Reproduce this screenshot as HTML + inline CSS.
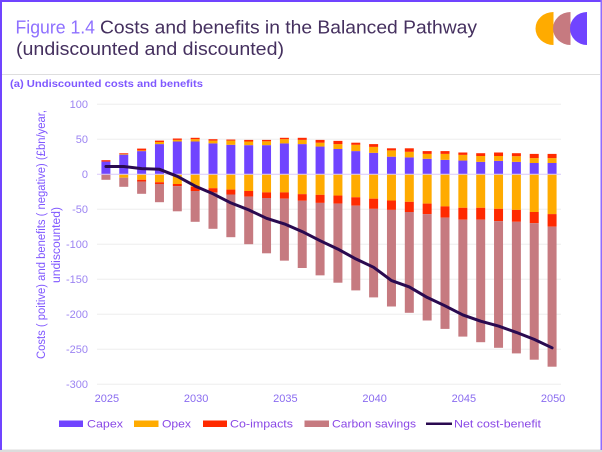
<!DOCTYPE html>
<html lang="en">
<head>
<meta charset="utf-8">
<title>Figure 1.4 Costs and benefits in the Balanced Pathway</title>
<style>
html,body{margin:0;padding:0;background:#fff;}
#frame{position:relative;width:602px;height:452px;overflow:hidden;background:#fff;}
svg{display:block;font-family:"Liberation Sans",sans-serif;}
</style>
</head>
<body>
<div id="frame">
<svg id="chart" width="602" height="452" viewBox="0 0 602 452">
  <rect x="0" y="449.5" width="602" height="2.5" fill="#dcdcdc"/>
  <rect x="0" y="0" width="602" height="2" fill="#7044ff"/>
  <rect x="0" y="0" width="2" height="450" fill="#7044ff"/>
  <rect x="600.5" y="0" width="1.5" height="450" fill="#8f6cff"/>
  <text x="15.5" y="33.5" font-size="18.5" fill="#8e70ff" textLength="79.5" lengthAdjust="spacingAndGlyphs">Figure 1.4</text>
  <text x="100" y="33.5" font-size="18.5" fill="#45305f" textLength="377" lengthAdjust="spacingAndGlyphs">Costs and benefits in the Balanced Pathway</text>
  <text x="16" y="55" font-size="18.5" fill="#45305f" textLength="268" lengthAdjust="spacingAndGlyphs">(undiscounted and discounted)</text>
  <g>
    <path d="M553.5 12 A18 16.5 0 0 0 553.5 45 Z" fill="#ffab00"/>
    <path d="M570.5 12 A17.5 16.5 0 0 0 570.5 45 Z" fill="#c67a80"/>
    <path d="M587 12 A17 16.5 0 0 0 587 45 Z" fill="#7044ff"/>
  </g>
  <rect x="2" y="74" width="598" height="1" fill="#dedede"/>
  <text x="10" y="87" font-size="10" font-weight="bold" fill="#7f58ff" textLength="193" lengthAdjust="spacingAndGlyphs">(a) Undiscounted costs and benefits</text>
  <g id="grid"></g>
  <g id="yticks"></g>
  <g id="bars"></g>
  <g id="zero"></g>
  <path id="netline" fill="none" stroke="#2a0a50" stroke-width="3" stroke-linejoin="round" stroke-linecap="round"/>
  <g id="xticks"></g>
  <text transform="translate(45,359) rotate(-90)" x="0" y="0" font-size="11.5" fill="#8058ff" textLength="249" lengthAdjust="spacingAndGlyphs">Costs ( poitive) and benefits ( negative) (£bn/year,</text>
  <text transform="translate(60,283) rotate(-90)" x="0" y="0" font-size="11.5" fill="#8058ff" textLength="76" lengthAdjust="spacingAndGlyphs">undiscounted)</text>
  <g>
    <g>
      <rect x="59" y="420.5" width="24" height="6.5" fill="#7044ff"/>
      <text x="87" y="427.5" font-size="11" fill="#8a48e6" textLength="36" lengthAdjust="spacingAndGlyphs">Capex</text>
    </g>
    <g>
      <rect x="134" y="420.5" width="24.5" height="6.5" fill="#ffab00"/>
      <text x="162" y="427.5" font-size="11" fill="#8a48e6" textLength="29" lengthAdjust="spacingAndGlyphs">Opex</text>
    </g>
    <g>
      <rect x="203" y="420.5" width="24" height="6.5" fill="#ff2a00"/>
      <text x="230" y="427.5" font-size="11" fill="#8a48e6" textLength="63" lengthAdjust="spacingAndGlyphs">Co-impacts</text>
    </g>
    <g>
      <rect x="304.5" y="420.5" width="24.5" height="6.5" fill="#c67a80"/>
      <text x="332" y="427.5" font-size="11" fill="#8a48e6" textLength="84" lengthAdjust="spacingAndGlyphs">Carbon savings</text>
    </g>
    <g>
      <rect x="426" y="422.5" width="26" height="2.5" fill="#2a0a50"/>
      <text x="454" y="427.5" font-size="11" fill="#8a48e6" textLength="87" lengthAdjust="spacingAndGlyphs">Net cost-benefit</text>
    </g>
  </g>
</svg>
</div>
<script>
const years = [2025,2026,2027,2028,2029,2030,2031,2032,2033,2034,2035,2036,2037,2038,2039,2040,2041,2042,2043,2044,2045,2046,2047,2048,2049,2050];
const xTickLabels = [2025,2030,2035,2040,2045,2050];
const yTickLabels = [100,50,0,-50,-100,-150,-200,-250,-300];
const capex = [18,28,33,43,46.7,46.7,44,42,41.5,41.5,44,43,39.5,36,33,30.5,25,24,22,20.5,19.5,17.6,19,17.6,16,16];
const opexCost = [0,1,1,3,2.3,3.3,4,6,5.2,5.5,6,6,5.5,7,9,8.5,9,8,7,8.5,8.1,8.4,7,8.1,7,7];
const coImpactCost = [2,1,2.6,2,2,2,2,1.5,2.3,2,2,3,4,4.6,3,4,3,5,4,4,3.4,4,5,4.3,6,6];
const opexBenefit = [0,-5,-8,-11.5,-14,-18,-20,-22,-24,-26,-26,-28.5,-29.5,-30.5,-33,-35,-37.6,-39.5,-42,-46,-48,-48,-49.5,-51,-54,-57];
const coImpactBenefit = [0,0,-2.5,-2.5,-3,-6,-6,-7,-8,-8,-9,-9.5,-11.5,-11.5,-12,-14.5,-13.4,-14.5,-15,-16,-17,-17,-17.5,-17,-16,-18];
const carbonSavings = [-8,-13,-17.5,-26,-36,-44,-52,-61,-68,-79,-88.5,-96,-103.5,-113,-121,-126.5,-138,-144,-152,-159,-167,-175,-181,-188,-195,-200];
const netCostBenefit = [11,11,8,7,-3,-17,-28,-41,-51,-63,-71,-82,-95,-107,-121,-133,-152,-161,-176,-188,-201,-210,-217,-226,-236,-248];

const seriesColors = {capex:'#7044ff',opex:'#ffab00',co:'#ff2a00',carbon:'#c67a80'};
const NS = 'http://www.w3.org/2000/svg';
const plotLeft = 97, plotRight = 561, zeroY = 174.2, pxPerUnit = 0.7, barWidth = 9;
function xScale(i){ return plotLeft + (i + 0.5) * (plotRight - plotLeft) / years.length; }
function yScale(v){ return zeroY - v * pxPerUnit; }

const gridG = document.getElementById('grid');
const yTickG = document.getElementById('yticks');
yTickLabels.forEach(function(v){
  if (v !== 0) {
    const line = document.createElementNS(NS,'line');
    line.setAttribute('x1',plotLeft);
    line.setAttribute('x2',plotRight);
    line.setAttribute('y1',yScale(v));
    line.setAttribute('y2',yScale(v));
    line.setAttribute('stroke','#eeeeee');
    line.setAttribute('stroke-width','1');
    
    
    gridG.appendChild(line);
  }
  const t = document.createElementNS(NS,'text');
  t.setAttribute('x',88);
  t.setAttribute('y',yScale(v) + 4);
  t.setAttribute('text-anchor','end');
  t.setAttribute('font-size','11');
  t.setAttribute('fill','#9c84f2');
  t.textContent = v;
  
  
  yTickG.appendChild(t);
});

const barsG = document.getElementById('bars');
function addSegment(i, from, to, color){
  if (from === to) return;
  const r = document.createElementNS(NS,'rect');
  r.setAttribute('x', xScale(i) - barWidth / 2);
  r.setAttribute('width', barWidth);
  r.setAttribute('y', Math.min(yScale(from), yScale(to)));
  r.setAttribute('height', Math.abs(yScale(from) - yScale(to)));
  r.setAttribute('fill', color);
  
  
  barsG.appendChild(r);
}
years.forEach(function(y,i){
  let top = 0;
  [[capex[i],seriesColors.capex],[opexCost[i],seriesColors.opex],[coImpactCost[i],seriesColors.co]].forEach(function(p){
    addSegment(i, top, top + p[0], p[1]);
    top += p[0];
  });
  let bottom = 0;
  [[opexBenefit[i],seriesColors.opex],[coImpactBenefit[i],seriesColors.co],[carbonSavings[i],seriesColors.carbon]].forEach(function(p){
    addSegment(i, bottom, bottom + p[0], p[1]);
    bottom += p[0];
  });
});

const zeroG = document.getElementById('zero');
const zeroLine = document.createElementNS(NS,'line');
zeroLine.setAttribute('x1',plotLeft);
zeroLine.setAttribute('x2',plotRight);
zeroLine.setAttribute('y1',yScale(0));
zeroLine.setAttribute('y2',yScale(0));
zeroLine.setAttribute('stroke','#d9c9fb');
zeroLine.setAttribute('stroke-width','1');


zeroG.appendChild(zeroLine);

document.getElementById('netline').setAttribute('d', netCostBenefit.map(function(v,i){
  return (i ? 'L' : 'M') + xScale(i).toFixed(2) + ' ' + yScale(v).toFixed(2);
}).join(' '));

const xTickG = document.getElementById('xticks');
xTickLabels.forEach(function(label){
  const t = document.createElementNS(NS,'text');
  t.setAttribute('x', xScale(years.indexOf(label)) + 1);
  t.setAttribute('y', 402);
  t.setAttribute('text-anchor','middle');
  t.setAttribute('font-size','11');
  t.setAttribute('fill','#8a6cf0');
  t.textContent = label;
  
  
  xTickG.appendChild(t);
});
</script>
</body>
</html>
